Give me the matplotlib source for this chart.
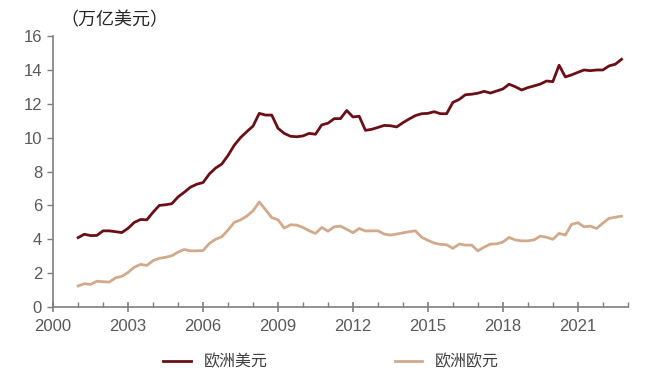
import numpy as np
import matplotlib.pyplot as plt
from matplotlib.ticker import MultipleLocator

plt.rcParams['font.family'] = ['Liberation Sans', 'Noto Sans CJK SC', 'DejaVu Sans']

# quarterly, 2001Q1 .. 2022Q4
quarters = 2001 + 0.25 * np.arange(88)

usd = [4.10, 4.30, 4.22, 4.23, 4.50, 4.50, 4.45, 4.40,
       4.65, 5.00, 5.17, 5.15, 5.60, 6.00, 6.04, 6.10,
       6.50, 6.78, 7.08, 7.25, 7.35, 7.85, 8.20, 8.44,
       8.95, 9.55, 10.00, 10.35, 10.68, 11.43, 11.33, 11.33,
       10.55, 10.25, 10.08, 10.05, 10.10, 10.25, 10.20, 10.75,
       10.85, 11.12, 11.12, 11.60, 11.22, 11.26, 10.43, 10.49,
       10.60, 10.72, 10.70, 10.63, 10.88, 11.10, 11.30, 11.41,
       11.43, 11.53, 11.41, 11.41, 12.08, 12.25, 12.53, 12.56,
       12.62, 12.73, 12.63, 12.75, 12.87, 13.15, 13.00, 12.81,
       12.95, 13.05, 13.16, 13.34, 13.30, 14.27, 13.58, 13.70,
       13.85, 13.99, 13.95, 13.99, 13.99, 14.23, 14.33, 14.62]

eur = [1.25, 1.38, 1.34, 1.53, 1.50, 1.48, 1.73, 1.82,
       2.05, 2.36, 2.52, 2.46, 2.74, 2.88, 2.94, 3.03,
       3.25, 3.40, 3.32, 3.32, 3.34, 3.75, 4.00, 4.15,
       4.55, 5.00, 5.15, 5.37, 5.68, 6.20, 5.75, 5.28,
       5.15, 4.66, 4.86, 4.84, 4.70, 4.50, 4.35, 4.70,
       4.48, 4.74, 4.78, 4.59, 4.39, 4.64, 4.49, 4.50,
       4.50, 4.31, 4.25, 4.31, 4.38, 4.45, 4.50, 4.12,
       3.94, 3.78, 3.70, 3.68, 3.47, 3.72, 3.66, 3.66,
       3.32, 3.54, 3.72, 3.73, 3.84, 4.11, 3.96, 3.91,
       3.91, 3.97, 4.19, 4.12, 4.00, 4.35, 4.25, 4.88,
       4.98, 4.74, 4.78, 4.64, 4.95, 5.24, 5.30, 5.37]

year_ticks = [2000, 2003, 2006, 2009, 2012, 2015, 2018, 2021]

fig = plt.figure(figsize=(6.56, 3.82), dpi=100)
ax = fig.add_axes([0.081, 0.196, 0.876, 0.710])

ax.plot(quarters, usd, color='#6b0e16', lw=2.0, label='欧洲美元')
ax.plot(quarters, eur, color='#d2aa8b', lw=2.0, label='欧洲欧元')

ax.set_xlim(2000, 2023)
ax.set_ylim(0, 16)
ax.set_xticks(year_ticks)
ax.xaxis.set_minor_locator(MultipleLocator(1))
ax.yaxis.set_major_locator(MultipleLocator(2))

for s in ['top', 'right']:
    ax.spines[s].set_visible(False)
for s in ['left', 'bottom']:
    ax.spines[s].set_color('#7f7f7f')
    ax.spines[s].set_linewidth(1.2)

ax.tick_params(axis='both', which='both', colors='#7f7f7f',
               labelcolor='#595959', labelsize=12)
ax.tick_params(axis='x', which='major', direction='inout', length=7, width=1.2, pad=5)
ax.tick_params(axis='x', which='minor', direction='in', length=3.5, width=1.0)
ax.tick_params(axis='y', direction='out', length=4, width=1.0, pad=4)

fig.text(0.092, 0.947, '（万亿美元）', fontsize=13, color='#262626',
         family=['Noto Sans CJK SC'], va='center')

fig.legend(loc='center', bbox_to_anchor=(0.505, 0.052), ncol=2, frameon=False,
           handlelength=1.7, columnspacing=8.0,
           prop={'family': ['Noto Sans CJK SC'], 'size': 11.5},
           labelcolor='#404040')

fig.savefig('out.png', dpi=100)
